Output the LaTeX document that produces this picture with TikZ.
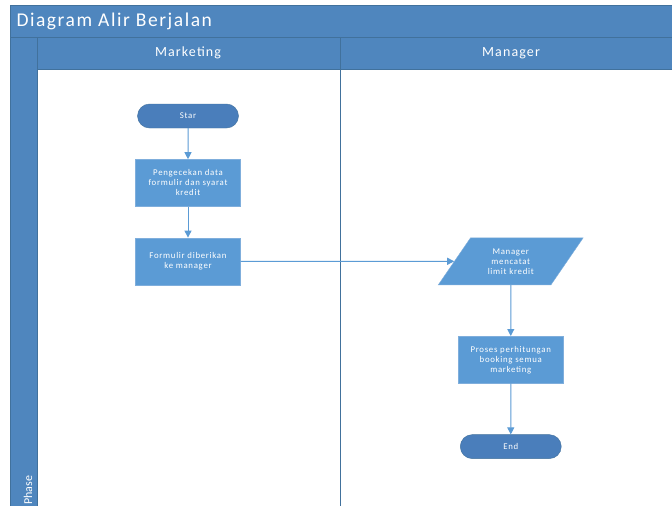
\documentclass[tikz,border=0pt]{standalone}
\usepackage{fontspec}
\setmainfont{Carlito}
\newfontfamily\lanefont[LetterSpace=8]{Carlito}
\usepackage{tikz}
\usetikzlibrary{
    shapes.geometric,
    shapes.misc,
    arrows.meta,
    positioning
}
\definecolor{lanblue}{HTML}{4F86BE}
\definecolor{lanedge}{HTML}{41719C}
\definecolor{flowblue}{HTML}{5B9BD5}
\definecolor{flowedge}{HTML}{7FAEDC}
\definecolor{termblue}{HTML}{4A7EBB}
\tikzset{
    % Lane header band
    laneband/.style={
        fill=lanblue,
        draw=lanedge,
        line width=0.6pt
    },
    % Process box
    flowbox/.style={
        rectangle,
        draw=flowedge,
        fill=flowblue,
        text=white,
        font=\lanefont\fontsize{8.8}{10}\selectfont,
        minimum width=105pt,
        minimum height=47pt,
        align=center,
        inner sep=2pt
    },
    % Start / end terminal
    termnode/.style={
        rounded rectangle,
        draw=lanedge,
        fill=termblue,
        text=white,
        font=\lanefont\fontsize{8.8}{10}\selectfont,
        minimum width=105pt,
        minimum height=24pt,
        inner sep=2pt
    },
    % Data node
    ionode/.style={
        trapezium,
        trapezium left angle=56,
        trapezium right angle=124,
        trapezium stretches=true,
        draw=flowedge,
        fill=flowblue,
        text=white,
        font=\lanefont\fontsize{8.8}{10}\selectfont,
        minimum width=145pt,
        minimum height=47pt,
        align=center,
        inner sep=2pt
    },
    % Arrow style
    flowarrow/.style={
        -{Triangle[length=7pt,width=7pt]},
        line width=1pt,
        color=flowblue
    }
}

\begin{document}
\begin{tikzpicture}[x=1pt, y=-1pt]

    \useasboundingbox[fill=white] (0,0) rectangle (672,506);

    % Pool frame
    \fill[laneband] (10,5) rectangle (680,37);
    \fill[laneband] (37,37) rectangle (680,69);
    \fill[laneband] (10,37) rectangle (37,512);
    \draw[lanedge, line width=1pt] (340,37) -- (340,512);

    % Titles
    \node[anchor=west, text=white, font=\lanefont\fontsize{19.5}{23}\selectfont] (title) at (13,21) {Diagram Alir Berjalan};
    \node[text=white, font=\lanefont\fontsize{14}{16}\selectfont] (marketing) at (188,53) {Marketing};
    \node[text=white, font=\lanefont\fontsize{14}{16}\selectfont] (manager) at (511,53) {Manager};
    \node[rotate=90, anchor=west, text=white, font=\fontsize{12}{14}\selectfont, inner sep=0pt] (phase) at (28,505) {Phase};

    % Marketing lane
    \node[termnode] (start) at (188,116) {Star};
    \node[flowbox, below=31pt of start] (check) {Pengecekan data\\formulir dan syarat\\kredit};
    \node[flowbox, below=31pt of check] (handover) {Formulir diberikan\\ke manager};

    % Manager lane
    \node[ionode, right=213.5pt of handover] (record) {Manager\\mencatat\\limit kredit};
    \node[flowbox, below=51pt of record] (booking) {Proses perhitungan\\booking semua\\marketing};
    \node[termnode, below=51pt of booking] (finish) {End};

    % Arrows
    \draw[flowarrow] (start) -- (check);
    \draw[flowarrow] (check) -- (handover);
    \draw[flowarrow] (handover) -- (record);
    \draw[flowarrow] (record) -- (booking);
    \draw[flowarrow] (booking) -- (finish);

\end{tikzpicture}
\end{document}
